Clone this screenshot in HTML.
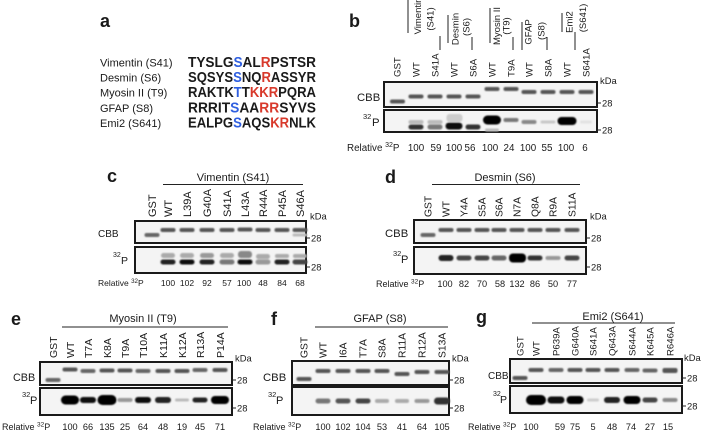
<!DOCTYPE html>
<html><head><meta charset="utf-8"><style>
html,body{margin:0;padding:0;background:#fff;}
svg{display:block;}
text{font-family:"Liberation Sans",Arial,sans-serif;fill:#1a1a1a;}
.bx{fill:#f4f4f4;stroke:#1a1a1a;stroke-width:2;}
.ln{stroke:#222;stroke-width:1;}
.L{font-weight:bold;font-size:18px;}
.seq{font-family:"Liberation Mono",monospace;font-weight:bold;font-size:15px;}
.bl{fill:#2f5fe0;}
.rd{fill:#d8392b;}
</style></head><body>
<svg width="702" height="432" viewBox="0 0 702 432" xmlns="http://www.w3.org/2000/svg">
<defs><filter id="f" x="-50%" y="-100%" width="200%" height="300%"><feGaussianBlur stdDeviation="0.8"/></filter></defs>

<!-- Panel a -->
<text class="L" x="100" y="27">a</text>
<g font-size="11">
<text x="100" y="66.5">Vimentin (S41)</text>
<text x="100" y="81.5">Desmin (S6)</text>
<text x="100" y="96.5">Myosin II (T9)</text>
<text x="100" y="112">GFAP (S8)</text>
<text x="100" y="127">Emi2 (S641)</text>
</g>
<g class="seq">
<text x="188" y="67" textLength="128" lengthAdjust="spacingAndGlyphs">TYSLG<tspan class="bl">S</tspan>AL<tspan class="rd">R</tspan>PSTSR</text>
<text x="188" y="82" textLength="128" lengthAdjust="spacingAndGlyphs">SQSYS<tspan class="bl">S</tspan>NQ<tspan class="rd">R</tspan>ASSYR</text>
<text x="188" y="97" textLength="128" lengthAdjust="spacingAndGlyphs">RAKTK<tspan class="bl">T</tspan>T<tspan class="rd">KKR</tspan>PQRA</text>
<text x="188" y="112.5" textLength="128" lengthAdjust="spacingAndGlyphs">RRRIT<tspan class="bl">S</tspan>AA<tspan class="rd">RR</tspan>SYVS</text>
<text x="188" y="127.5" textLength="128" lengthAdjust="spacingAndGlyphs">EALPG<tspan class="bl">S</tspan>AQS<tspan class="rd">KR</tspan>NLK</text>
</g>

<!-- Panel b -->
<text class="L" x="349" y="27">b</text>
<g class="ln">
<line x1="408" y1="0" x2="408" y2="33"/><line x1="440" y1="36" x2="440" y2="50"/>
<line x1="448" y1="15" x2="448" y2="43"/><line x1="472" y1="37" x2="472" y2="50"/>
<line x1="490" y1="8" x2="490" y2="43"/><line x1="513" y1="37" x2="513" y2="50"/>
<line x1="522" y1="22" x2="522" y2="50"/><line x1="547" y1="37" x2="547" y2="50"/>
<line x1="562" y1="13" x2="562" y2="32"/><line x1="575" y1="32" x2="575" y2="50"/>
</g>
<g font-size="9.5" text-anchor="middle">
<text transform="translate(421,16) rotate(-90)">Vimentin</text>
<text transform="translate(433.5,19) rotate(-90)">(S41)</text>
<text transform="translate(458.5,29) rotate(-90)">Desmin</text>
<text transform="translate(469.5,27) rotate(-90)">(S6)</text>
<text transform="translate(500,26) rotate(-90)">Myosin II</text>
<text transform="translate(509.5,26) rotate(-90)">(T9)</text>
<text transform="translate(531.5,32) rotate(-90)">GFAP</text>
<text transform="translate(544.5,31) rotate(-90)">(S8)</text>
<text transform="translate(572.5,22) rotate(-90)">Emi2</text>
<text transform="translate(586,18) rotate(-90)">(S641)</text>
</g>
<g font-size="9.6">
<text transform="translate(400.5,77) rotate(-90)">GST</text>
<text transform="translate(419.5,77) rotate(-90)">WT</text>
<text transform="translate(438.5,77) rotate(-90)">S41A</text>
<text transform="translate(457.5,77) rotate(-90)">WT</text>
<text transform="translate(476.5,77) rotate(-90)">S6A</text>
<text transform="translate(495.5,77) rotate(-90)">WT</text>
<text transform="translate(514.5,77) rotate(-90)">T9A</text>
<text transform="translate(532.5,77) rotate(-90)">WT</text>
<text transform="translate(551.5,77) rotate(-90)">S8A</text>
<text transform="translate(570.5,77) rotate(-90)">WT</text>
<text transform="translate(589.5,77) rotate(-90)">S641A</text>
</g>
<rect class="bx" x="384" y="82" width="213" height="25"/>
<rect class="bx" x="384" y="110" width="213" height="22"/>
<g filter="url(#f)">
<rect x="390" y="99.5" width="15" height="4" rx="2" fill="#555"/>
<rect x="408.5" y="94.5" width="15" height="4" rx="2" fill="#555"/>
<rect x="427.5" y="94.5" width="15" height="4" rx="2" fill="#555"/>
<rect x="446.5" y="94.5" width="15" height="4" rx="2" fill="#555"/>
<rect x="465.5" y="94.5" width="15" height="4" rx="2" fill="#555"/>
<rect x="484.5" y="87" width="15" height="4" rx="2" fill="#555"/>
<rect x="503.5" y="87" width="15" height="4" rx="2" fill="#555"/>
<rect x="521.5" y="90" width="15" height="4" rx="2" fill="#555"/>
<rect x="540.5" y="90" width="15" height="4" rx="2" fill="#555"/>
<rect x="559.5" y="90" width="15" height="4" rx="2" fill="#555"/>
<rect x="578.5" y="90" width="15" height="4" rx="2" fill="#555"/>
<rect x="408.5" y="120" width="15" height="4" rx="2" fill="#bbb"/>
<rect x="408.5" y="124.5" width="15" height="5" rx="2.5" fill="#333"/>
<rect x="427.5" y="120" width="15" height="4" rx="2" fill="#bbb"/>
<rect x="427.5" y="124.5" width="15" height="5" rx="2.5" fill="#777"/>
<rect x="446.5" y="114" width="16" height="8" rx="3" fill="#ccc"/>
<rect x="445.5" y="122.5" width="17" height="7" rx="3.5" fill="#111"/>
<rect x="465.5" y="124.5" width="15" height="5" rx="2.5" fill="#333"/>
<rect x="483" y="115.5" width="18" height="9" rx="4.5" fill="#000"/>
<rect x="485" y="128.5" width="14" height="3" rx="1.5" fill="#bbb"/>
<rect x="503.5" y="118" width="15" height="4" rx="2" fill="#777"/>
<rect x="521.5" y="120" width="15" height="4" rx="2" fill="#888"/>
<rect x="540.5" y="120.5" width="15" height="3" rx="1.5" fill="#c8c8c8"/>
<rect x="557.5" y="117" width="19" height="8" rx="4" fill="#000"/>
<rect x="580" y="120.5" width="12" height="3" rx="1.5" fill="#e2e2e2"/>
</g>
<text x="357" y="101" font-size="11.3">CBB</text>
<text x="363" y="119" font-size="7.5">32</text><text x="372" y="126" font-size="11.3">P</text>
<text x="600" y="84" font-size="9.4">kDa</text>
<g class="ln"><line x1="597" y1="103" x2="601" y2="103"/><line x1="597" y1="130" x2="601" y2="130"/></g>
<text x="602" y="106.5" font-size="9.4">28</text><text x="602" y="133.5" font-size="9.4">28</text>
<text x="347" y="151" font-size="9.8">Relative <tspan font-size="7" dy="-4">32</tspan><tspan dy="4">P</tspan></text>
<g font-size="9.8" text-anchor="middle">
<text x="416" y="151">100</text><text x="436" y="151">59</text><text x="454" y="151">100</text><text x="470" y="151">56</text>
<text x="490" y="151">100</text><text x="509" y="151">24</text><text x="528" y="151">100</text><text x="547" y="151">55</text>
<text x="566" y="151">100</text><text x="585" y="151">6</text>
</g>

<!-- Panel c -->
<text class="L" x="107" y="182">c</text>
<text x="233" y="181" font-size="11" text-anchor="middle">Vimentin (S41)</text>
<line class="ln" x1="163" y1="184.5" x2="303" y2="184.5"/>
<g font-size="11">
<text transform="translate(156,217) rotate(-90)">GST</text>
<text transform="translate(172,217) rotate(-90)">WT</text>
<text transform="translate(191,217) rotate(-90)">L39A</text>
<text transform="translate(211,217) rotate(-90)">G40A</text>
<text transform="translate(231,217) rotate(-90)">S41A</text>
<text transform="translate(249,217) rotate(-90)">L43A</text>
<text transform="translate(267,217) rotate(-90)">R44A</text>
<text transform="translate(286,217) rotate(-90)">P45A</text>
<text transform="translate(304,217) rotate(-90)">S46A</text>
</g>
<rect class="bx" x="135" y="221" width="171" height="22"/>
<rect class="bx" x="135" y="247" width="171" height="26"/>
<g filter="url(#f)">
<rect x="144.5" y="233" width="15" height="4" rx="2" fill="#666"/>
<rect x="160.5" y="228" width="15" height="4" rx="2" fill="#555"/>
<rect x="179.5" y="228" width="15" height="4" rx="2" fill="#555"/>
<rect x="199.5" y="228" width="15" height="4" rx="2" fill="#555"/>
<rect x="219.5" y="228" width="15" height="4" rx="2" fill="#555"/>
<rect x="237.5" y="227.5" width="15" height="4" rx="2" fill="#555"/>
<rect x="255.5" y="228" width="15" height="4" rx="2" fill="#555"/>
<rect x="274.5" y="228" width="15" height="4" rx="2" fill="#555"/>
<rect x="292.5" y="228" width="15" height="4" rx="2" fill="#555"/>
<rect x="292.5" y="233.5" width="15" height="3" rx="1.5" fill="#bbb"/>
<rect x="161" y="253" width="14" height="5" rx="2.5" fill="#aaa"/>
<rect x="160.5" y="259.5" width="15" height="5" rx="2.5" fill="#222"/>
<rect x="180" y="253" width="14" height="5" rx="2.5" fill="#aaa"/>
<rect x="179.5" y="259.5" width="15" height="5" rx="2.5" fill="#111"/>
<rect x="200" y="253" width="14" height="5" rx="2.5" fill="#999"/>
<rect x="199.5" y="259.5" width="15" height="5" rx="2.5" fill="#222"/>
<rect x="220" y="253" width="14" height="5" rx="2.5" fill="#aaa"/>
<rect x="219.5" y="259.5" width="15" height="5" rx="2.5" fill="#777"/>
<rect x="238" y="251" width="14" height="7" rx="3" fill="#888"/>
<rect x="237.5" y="259.5" width="15" height="5" rx="2.5" fill="#111"/>
<rect x="256" y="254" width="14" height="5" rx="2.5" fill="#aaa"/>
<rect x="255.5" y="259.5" width="15" height="5" rx="2.5" fill="#999"/>
<rect x="275" y="254" width="14" height="4" rx="2" fill="#aaa"/>
<rect x="274.5" y="259.5" width="15" height="5" rx="2.5" fill="#222"/>
<rect x="293" y="254" width="14" height="4" rx="2" fill="#aaa"/>
<rect x="292.5" y="259.5" width="15" height="5" rx="2.5" fill="#444"/>
</g>
<text x="98" y="237" font-size="10">CBB</text>
<text x="113" y="257" font-size="7">32</text><text x="121" y="264" font-size="10.5">P</text>
<text x="310" y="219.5" font-size="9.4">kDa</text>
<g class="ln"><line x1="306" y1="238" x2="310" y2="238"/><line x1="306" y1="267" x2="310" y2="267"/></g>
<text x="311" y="241.5" font-size="9.4">28</text><text x="311" y="270.5" font-size="9.4">28</text>
<text x="98" y="286" font-size="8.5">Relative <tspan font-size="6.2" dy="-3">32</tspan><tspan dy="3">P</tspan></text>
<g font-size="8.5" text-anchor="middle">
<text x="168" y="286">100</text><text x="187" y="286">102</text><text x="207" y="286">92</text><text x="227" y="286">57</text>
<text x="244" y="286">100</text><text x="263" y="286">48</text><text x="282" y="286">84</text><text x="300" y="286">68</text>
</g>

<!-- Panel d -->
<text class="L" x="385" y="183">d</text>
<text x="505" y="181" font-size="11" text-anchor="middle">Desmin (S6)</text>
<line class="ln" x1="432" y1="184.5" x2="580" y2="184.5"/>
<g font-size="10.3">
<text transform="translate(431.7,217) rotate(-90)">GST</text>
<text transform="translate(449.7,217) rotate(-90)">WT</text>
<text transform="translate(467.7,217) rotate(-90)">Y4A</text>
<text transform="translate(485.7,217) rotate(-90)">S5A</text>
<text transform="translate(502.7,217) rotate(-90)">S6A</text>
<text transform="translate(520.7,217) rotate(-90)">N7A</text>
<text transform="translate(538.7,217) rotate(-90)">Q8A</text>
<text transform="translate(556.7,217) rotate(-90)">R9A</text>
<text transform="translate(575.7,217) rotate(-90)">S11A</text>
</g>
<rect class="bx" x="414" y="220" width="172" height="23"/>
<rect class="bx" x="414" y="247" width="172" height="27"/>
<g filter="url(#f)">
<rect x="420.5" y="233" width="15" height="4" rx="2" fill="#666"/>
<rect x="438.5" y="228" width="15" height="4" rx="2" fill="#555"/>
<rect x="456.5" y="228" width="15" height="4" rx="2" fill="#555"/>
<rect x="474.5" y="228" width="15" height="4" rx="2" fill="#555"/>
<rect x="491.5" y="228" width="15" height="4" rx="2" fill="#555"/>
<rect x="509.5" y="228" width="15" height="4" rx="2" fill="#555"/>
<rect x="527.5" y="228" width="15" height="4" rx="2" fill="#555"/>
<rect x="545.5" y="228" width="15" height="4" rx="2" fill="#555"/>
<rect x="564.5" y="228" width="15" height="4" rx="2" fill="#555"/>
<rect x="438.5" y="255" width="15" height="6" rx="3" fill="#222"/>
<rect x="456.5" y="255.5" width="15" height="5" rx="2.5" fill="#444"/>
<rect x="474.5" y="255.5" width="15" height="5" rx="2.5" fill="#444"/>
<rect x="491.5" y="255.5" width="15" height="5" rx="2.5" fill="#666"/>
<rect x="509" y="253.5" width="17" height="9" rx="4" fill="#000"/>
<rect x="527.5" y="255.5" width="15" height="5" rx="2.5" fill="#333"/>
<rect x="545.5" y="256" width="15" height="4" rx="2" fill="#999"/>
<rect x="564.5" y="255.5" width="15" height="5" rx="2.5" fill="#444"/>
</g>
<text x="385" y="237" font-size="11.3">CBB</text>
<text x="393" y="256" font-size="7.5">32</text><text x="401" y="263" font-size="11">P</text>
<text x="590" y="219.5" font-size="9.4">kDa</text>
<g class="ln"><line x1="586" y1="238" x2="590" y2="238"/><line x1="586" y1="267" x2="590" y2="267"/></g>
<text x="591" y="241.5" font-size="9.4">28</text><text x="591" y="270.5" font-size="9.4">28</text>
<text x="376" y="287" font-size="9">Relative <tspan font-size="6.5" dy="-3.5">32</tspan><tspan dy="3.5">P</tspan></text>
<g font-size="9.2" text-anchor="middle">
<text x="445" y="287">100</text><text x="464" y="287">82</text><text x="482" y="287">70</text><text x="500" y="287">58</text>
<text x="517" y="287">132</text><text x="535" y="287">86</text><text x="553" y="287">50</text><text x="572" y="287">77</text>
</g>

<!-- Panel e -->
<text class="L" x="11" y="325">e</text>
<text x="143" y="322" font-size="11" text-anchor="middle">Myosin II (T9)</text>
<line class="ln" x1="62" y1="327" x2="228" y2="327"/>
<g font-size="10.5">
<text transform="translate(56.8,358) rotate(-90)">GST</text>
<text transform="translate(73.8,358) rotate(-90)">WT</text>
<text transform="translate(91.8,358) rotate(-90)">T7A</text>
<text transform="translate(110.8,358) rotate(-90)">K8A</text>
<text transform="translate(128.8,358) rotate(-90)">T9A</text>
<text transform="translate(146.8,358) rotate(-90)">T10A</text>
<text transform="translate(166.8,358) rotate(-90)">K11A</text>
<text transform="translate(185.8,358) rotate(-90)">K12A</text>
<text transform="translate(203.8,358) rotate(-90)">R13A</text>
<text transform="translate(223.8,358) rotate(-90)">P14A</text>
</g>
<rect class="bx" x="40" y="362" width="192" height="23"/>
<rect class="bx" x="40" y="388" width="192" height="27"/>
<g filter="url(#f)">
<rect x="45.5" y="378" width="15" height="4" rx="2" fill="#666"/>
<rect x="62.5" y="367.5" width="15" height="4" rx="2" fill="#555"/>
<rect x="80.5" y="369" width="15" height="4" rx="2" fill="#666"/>
<rect x="99.5" y="368.5" width="15" height="4" rx="2" fill="#555"/>
<rect x="117.5" y="368.5" width="15" height="4" rx="2" fill="#555"/>
<rect x="135.5" y="369" width="15" height="4" rx="2" fill="#666"/>
<rect x="155.5" y="369" width="15" height="4" rx="2" fill="#555"/>
<rect x="174.5" y="369" width="15" height="4" rx="2" fill="#555"/>
<rect x="192.5" y="368" width="15" height="4" rx="2" fill="#666"/>
<rect x="212.5" y="368" width="15" height="4" rx="2" fill="#555"/>
<rect x="61" y="395.5" width="18" height="9" rx="4.5" fill="#000"/>
<rect x="80" y="397" width="16" height="6" rx="3" fill="#111"/>
<rect x="97.5" y="395" width="19" height="10" rx="5" fill="#000"/>
<rect x="117.5" y="398" width="15" height="4" rx="2" fill="#999"/>
<rect x="135" y="397" width="16" height="6" rx="3" fill="#111"/>
<rect x="155" y="397" width="16" height="6" rx="3" fill="#222"/>
<rect x="175" y="398.5" width="14" height="3" rx="1.5" fill="#bbb"/>
<rect x="192.5" y="397.5" width="15" height="5" rx="2.5" fill="#222"/>
<rect x="211" y="396" width="18" height="8" rx="4" fill="#000"/>
</g>
<text x="13" y="381" font-size="10.8">CBB</text>
<text x="22" y="397" font-size="7.5">32</text><text x="30" y="404" font-size="11">P</text>
<text x="235" y="361.5" font-size="9.4">kDa</text>
<g class="ln"><line x1="232" y1="380" x2="236" y2="380"/><line x1="232" y1="408" x2="236" y2="408"/></g>
<text x="237" y="383.5" font-size="9.4">28</text><text x="237" y="411.5" font-size="9.4">28</text>
<text x="2" y="430" font-size="9">Relative <tspan font-size="6.5" dy="-3.5">32</tspan><tspan dy="3.5">P</tspan></text>
<g font-size="9.2" text-anchor="middle">
<text x="70" y="430">100</text><text x="88" y="430">66</text><text x="107" y="430">135</text><text x="125" y="430">25</text>
<text x="143" y="430">64</text><text x="163" y="430">48</text><text x="182" y="430">19</text><text x="200" y="430">45</text><text x="220" y="430">71</text>
</g>

<!-- Panel f -->
<text class="L" x="271" y="325">f</text>
<text x="380" y="322" font-size="11" text-anchor="middle">GFAP (S8)</text>
<line class="ln" x1="315" y1="327" x2="448" y2="327"/>
<g font-size="10.3">
<text transform="translate(307.7,358) rotate(-90)">GST</text>
<text transform="translate(326.7,358) rotate(-90)">WT</text>
<text transform="translate(346.7,358) rotate(-90)">I6A</text>
<text transform="translate(366.7,358) rotate(-90)">T7A</text>
<text transform="translate(385.7,358) rotate(-90)">S8A</text>
<text transform="translate(405.7,358) rotate(-90)">R11A</text>
<text transform="translate(425.7,358) rotate(-90)">R12A</text>
<text transform="translate(445.7,358) rotate(-90)">S13A</text>
</g>
<rect class="bx" x="292" y="361" width="157" height="24"/>
<rect class="bx" x="292" y="387" width="157" height="28"/>
<g filter="url(#f)">
<rect x="296.5" y="377" width="15" height="4" rx="2" fill="#555"/>
<rect x="315.5" y="369" width="15" height="4" rx="2" fill="#555"/>
<rect x="335.5" y="369" width="15" height="4" rx="2" fill="#555"/>
<rect x="355.5" y="369" width="15" height="4" rx="2" fill="#555"/>
<rect x="374.5" y="369" width="15" height="4" rx="2" fill="#555"/>
<rect x="394.5" y="372" width="15" height="4" rx="2" fill="#555"/>
<rect x="414.5" y="370" width="15" height="4" rx="2" fill="#555"/>
<rect x="434.5" y="370" width="15" height="4" rx="2" fill="#555"/>
<rect x="315.5" y="398.5" width="15" height="5" rx="2.5" fill="#777"/>
<rect x="335.5" y="398.5" width="15" height="5" rx="2.5" fill="#555"/>
<rect x="355.5" y="398.5" width="15" height="5" rx="2.5" fill="#444"/>
<rect x="375" y="399" width="14" height="4" rx="2" fill="#aaa"/>
<rect x="395" y="399" width="14" height="4" rx="2" fill="#aaa"/>
<rect x="414.5" y="399" width="15" height="4" rx="2" fill="#999"/>
<rect x="434" y="397.5" width="16" height="7" rx="3.5" fill="#333"/>
</g>
<text x="263" y="381" font-size="11.3">CBB</text>
<text x="268" y="397" font-size="7.5">32</text><text x="276" y="404" font-size="11">P</text>
<text x="452" y="361.5" font-size="9.4">kDa</text>
<g class="ln"><line x1="449" y1="380" x2="453" y2="380"/><line x1="449" y1="408" x2="453" y2="408"/></g>
<text x="454" y="383.5" font-size="9.4">28</text><text x="454" y="411.5" font-size="9.4">28</text>
<text x="253" y="430" font-size="9">Relative <tspan font-size="6.5" dy="-3.5">32</tspan><tspan dy="3.5">P</tspan></text>
<g font-size="9.2" text-anchor="middle">
<text x="323" y="430">100</text><text x="343" y="430">102</text><text x="363" y="430">104</text><text x="382" y="430">53</text>
<text x="402" y="430">41</text><text x="422" y="430">64</text><text x="442" y="430">105</text>
</g>

<!-- Panel g -->
<text class="L" x="476" y="323">g</text>
<text x="613" y="320" font-size="11" text-anchor="middle">Emi2 (S641)</text>
<line class="ln" x1="532" y1="323" x2="675" y2="323"/>
<g font-size="9.6">
<text transform="translate(523.5,356) rotate(-90)">GST</text>
<text transform="translate(539.5,356) rotate(-90)">WT</text>
<text transform="translate(559.5,356) rotate(-90)">P639A</text>
<text transform="translate(578.5,356) rotate(-90)">G640A</text>
<text transform="translate(596.5,356) rotate(-90)">S641A</text>
<text transform="translate(615.5,356) rotate(-90)">Q643A</text>
<text transform="translate(635.5,356) rotate(-90)">S644A</text>
<text transform="translate(653.5,356) rotate(-90)">K645A</text>
<text transform="translate(673.5,356) rotate(-90)">R646A</text>
</g>
<rect class="bx" x="510" y="359" width="172" height="24"/>
<rect class="bx" x="510" y="386" width="172" height="27"/>
<g filter="url(#f)">
<rect x="512.5" y="376" width="15" height="4" rx="2" fill="#555"/>
<rect x="528.5" y="368" width="15" height="4" rx="2" fill="#555"/>
<rect x="548.5" y="368" width="15" height="4" rx="2" fill="#666"/>
<rect x="567.5" y="368" width="15" height="4" rx="2" fill="#555"/>
<rect x="585.5" y="368" width="15" height="4" rx="2" fill="#555"/>
<rect x="604.5" y="368" width="15" height="4" rx="2" fill="#555"/>
<rect x="624.5" y="368" width="15" height="4" rx="2" fill="#666"/>
<rect x="642.5" y="368.5" width="15" height="4" rx="2" fill="#666"/>
<rect x="662.5" y="368" width="15" height="5" rx="2" fill="#555"/>
<rect x="526" y="395" width="20" height="10" rx="5" fill="#000"/>
<rect x="547.5" y="396.5" width="17" height="7" rx="3.5" fill="#111"/>
<rect x="566.5" y="396" width="17" height="8" rx="4" fill="#000"/>
<rect x="587" y="398.5" width="12" height="3" rx="1.5" fill="#ccc"/>
<rect x="604" y="397" width="16" height="6" rx="3" fill="#222"/>
<rect x="623.5" y="396" width="17" height="8" rx="4" fill="#000"/>
<rect x="642.5" y="397.5" width="15" height="5" rx="2.5" fill="#444"/>
<rect x="662.5" y="398" width="15" height="4" rx="2" fill="#888"/>
</g>
<text x="488" y="379" font-size="10">CBB</text>
<text x="493" y="396" font-size="7">32</text><text x="500" y="403" font-size="10.5">P</text>
<text x="684" y="361" font-size="9.4">kDa</text>
<g class="ln"><line x1="682" y1="378" x2="686" y2="378"/><line x1="682" y1="406" x2="686" y2="406"/></g>
<text x="687" y="381.5" font-size="9.4">28</text><text x="687" y="409.5" font-size="9.4">28</text>
<text x="468" y="430" font-size="9">Relative <tspan font-size="6.5" dy="-3.5">32</tspan><tspan dy="3.5">P</tspan></text>
<g font-size="9.2" text-anchor="middle">
<text x="531" y="430">100</text><text x="560" y="430">59</text><text x="575" y="430">75</text><text x="593" y="430">5</text>
<text x="612" y="430">48</text><text x="631" y="430">74</text><text x="650" y="430">27</text><text x="668" y="430">15</text>
</g>
</svg>
</body></html>
